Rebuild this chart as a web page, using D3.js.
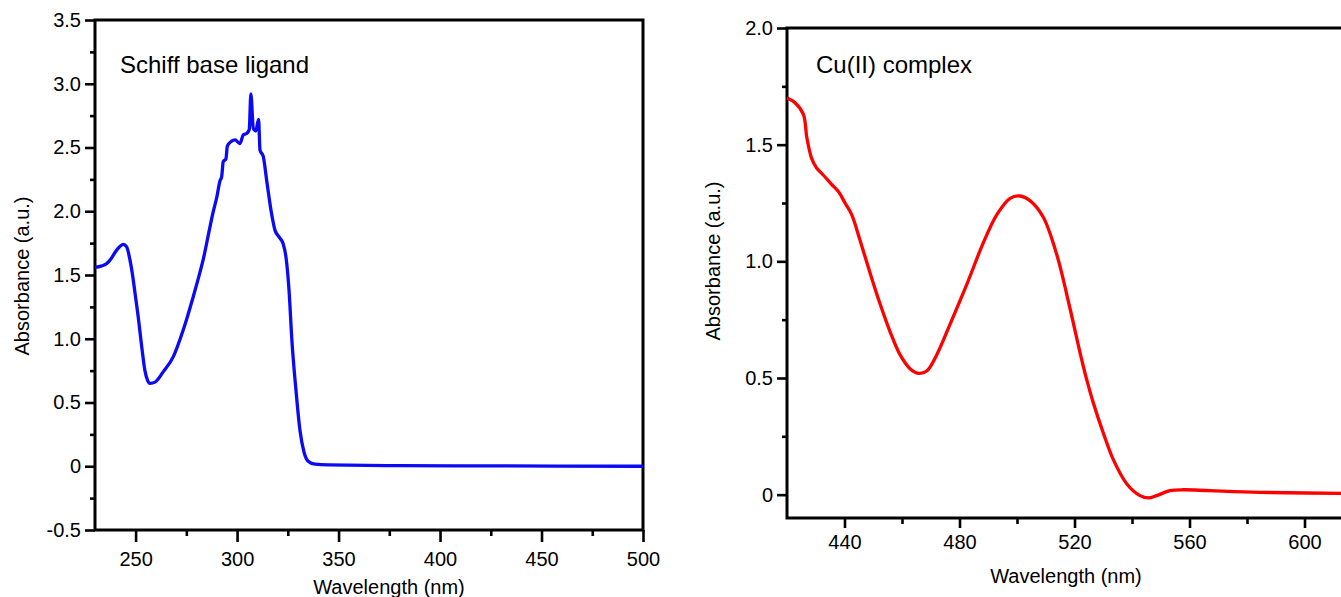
<!DOCTYPE html>
<html>
<head>
<meta charset="utf-8">
<script src="https://cdnjs.cloudflare.com/ajax/libs/d3/7.8.5/d3.min.js"></script>
<style>
  body { margin: 0; background: #fff; }
  text { font-family: "Liberation Sans", Arial, Helvetica, sans-serif; fill: #000; }
</style>
</head>
<body>
<div id="chart"></div>
<script>
// Schiff base ligand spectrum (wavelength nm, absorbance)
ligand_wl = [230, 233, 235.8, 238, 240, 242, 243.9, 245.6, 247.2, 248.5, 249.7, 251.3, 253, 254.6, 256, 257.1,
  259.6, 263.6, 268.6, 273.5, 278.4, 281.7, 283.3, 286.3, 288, 290, 291.6, 292.4, 293.2, 294.5, 295.2, 297.3,
  299, 301.4, 303.1, 304.7, 306, 306.8, 308, 309.2, 310.6, 311.3, 312.9, 314.6, 317, 318.7, 321.1, 322.6,
  324.1, 325.6, 327, 329, 331, 333, 335, 338.4, 345, 380, 420, 500];
ligand_abs = [1.56, 1.57, 1.59, 1.63, 1.68, 1.72, 1.74, 1.72, 1.62, 1.50, 1.36, 1.17, 0.94, 0.75, 0.67, 0.65,
  0.66, 0.74, 0.86, 1.07, 1.33, 1.52, 1.62, 1.85, 1.98, 2.11, 2.24, 2.27, 2.39, 2.41, 2.51, 2.55,
  2.56, 2.53, 2.60, 2.61, 2.64, 2.92, 2.65, 2.63, 2.72, 2.48, 2.43, 2.24, 1.98, 1.85, 1.79, 1.75,
  1.64, 1.38, 0.99, 0.60, 0.28, 0.11, 0.04, 0.016, 0.01, 0.005, 0.003, 0.0];

// Cu(II) complex spectrum
complex_wl = [420, 422.8, 425.7, 426.9, 428.6, 430.3, 432.6, 435.5, 437.8, 440.2, 442.5, 445.4, 448.9, 452.3,
  455.8, 459.3, 462.8, 465.7, 468.6, 472.1, 476.7, 482.5, 488.3, 493, 497.6, 501, 504.5, 509.1, 513.8,
  518.4, 521.9, 524.2, 526.5, 530, 533.5, 538.2, 542.8, 545.7, 548.6, 553.2, 557.8, 567.1, 584.5, 620];
complex_abs = [1.70, 1.68, 1.63, 1.53, 1.44, 1.40, 1.37, 1.33, 1.30, 1.25, 1.20, 1.09, 0.95, 0.82,
  0.70, 0.60, 0.54, 0.52, 0.53, 0.60, 0.73, 0.90, 1.08, 1.20, 1.27, 1.28, 1.26, 1.19, 1.03,
  0.80, 0.61, 0.495, 0.395, 0.265, 0.15, 0.046, -0.004, -0.014, -0.004, 0.017, 0.021, 0.017, 0.010, 0.005];

ligand_xticks = [250, 300, 350, 400, 450, 500];
ligand_xminor = [225, 275, 325, 375, 425, 475];
ligand_yticks = [-0.5, 0, 0.5, 1.0, 1.5, 2.0, 2.5, 3.0, 3.5];
ligand_yminor = [-0.25, 0.25, 0.75, 1.25, 1.75, 2.25, 2.75, 3.25];
complex_xticks = [440, 480, 520, 560, 600];
complex_xminor = [460, 500, 540, 580, 620];
complex_yticks = [0, 0.5, 1.0, 1.5, 2.0];
complex_yminor = [0.25, 0.75, 1.25, 1.75];

W = 1341;
H = 597;

svg = d3.select('#chart')
  .append('svg')
  .attr('width', W)
  .attr('height', H)
  .style('display', 'block');

function fmt(d) {
  return d === 0 ? '0' : d.toFixed(1);
}

function panel(opts) {
  x = d3.scaleLinear().domain(opts.xdom).range(opts.xr);
  y = d3.scaleLinear().domain(opts.ydom).range(opts.yr);
  g = svg.append('g');

  // minor ticks
  g.append('g')
    .attr('transform', 'translate(0,' + opts.yr[0] + ')')
    .call(d3.axisBottom(x).tickValues(opts.xminor.filter(v => v > opts.xdom[0])).tickSize(6).tickFormat(''))
    .call(a => a.select('.domain').remove());
  g.append('g')
    .attr('transform', 'translate(' + opts.xr[0] + ',0)')
    .call(d3.axisLeft(y).tickValues(opts.yminor).tickSize(5).tickFormat(''))
    .call(a => a.select('.domain').remove());

  // major ticks
  g.append('g')
    .attr('transform', 'translate(0,' + opts.yr[0] + ')')
    .call(d3.axisBottom(x).tickValues(opts.xticks).tickSize(opts.xtick).tickPadding(opts.xpad).tickFormat(d => d))
    .call(a => a.select('.domain').remove());
  g.append('g')
    .attr('transform', 'translate(' + opts.xr[0] + ',0)')
    .call(d3.axisLeft(y).tickValues(opts.yticks).tickSize(10).tickPadding(4).tickFormat(fmt))
    .call(a => a.select('.domain').remove());

  g.selectAll('.tick line').attr('stroke', '#000').attr('stroke-width', 2.6);
  g.selectAll('.tick text').style('font-size', '20px').style('font-family', '"Liberation Sans", Arial, sans-serif');

  // frame
  g.append('rect')
    .attr('x', opts.xr[0])
    .attr('y', opts.yr[1])
    .attr('width', opts.xr[1] - opts.xr[0])
    .attr('height', opts.yr[0] - opts.yr[1])
    .attr('fill', 'none')
    .attr('stroke', '#000')
    .attr('stroke-width', 3);

  // curve
  line = d3.line()
    .x((d, i) => x(opts.wl[i]))
    .y((d, i) => y(opts.ab[i]))
    .curve(opts.curve);
  g.append('path')
    .datum(opts.ab)
    .attr('d', line)
    .attr('fill', 'none')
    .attr('stroke', opts.color)
    .attr('stroke-width', 3.3)
    .attr('stroke-linejoin', 'round');

  // labels
  g.append('text')
    .attr('x', opts.titleX)
    .attr('y', opts.titleY)
    .style('font-size', '24px')
    .text(opts.title);
  g.append('text')
    .attr('x', opts.xlabX)
    .attr('y', opts.xlabY)
    .attr('text-anchor', 'middle')
    .style('font-size', '20px')
    .text('Wavelength (nm)');
  g.append('text')
    .attr('transform', 'translate(' + opts.ylabX + ',' + opts.ylabY + ') rotate(-90)')
    .attr('text-anchor', 'middle')
    .style('font-size', '20px')
    .text('Absorbance (a.u.)');
}

panel({
  xdom: [230, 500], xr: [95, 643],
  ydom: [-0.5, 3.5], yr: [530, 20],
  xticks: ligand_xticks, xminor: ligand_xminor, xtick: 12, xpad: 10,
  yticks: ligand_yticks, yminor: ligand_yminor,
  wl: ligand_wl, ab: ligand_abs, color: '#0a0af5', curve: d3.curveMonotoneX,
  title: 'Schiff base ligand', titleX: 120, titleY: 73,
  xlabX: 389, xlabY: 594, ylabX: 29, ylabY: 276
});

panel({
  xdom: [420, 620], xr: [787, 1362],
  ydom: [-0.1, 2.0], yr: [518, 28],
  xticks: complex_xticks, xminor: complex_xminor, xtick: 10, xpad: 7,
  yticks: complex_yticks, yminor: complex_yminor,
  wl: complex_wl, ab: complex_abs, color: '#ff0000', curve: d3.curveCatmullRom.alpha(0.5),
  title: 'Cu(II) complex', titleX: 816, titleY: 73,
  xlabX: 1066, xlabY: 583, ylabX: 720, ylabY: 261
});
</script>
</body>
</html>
